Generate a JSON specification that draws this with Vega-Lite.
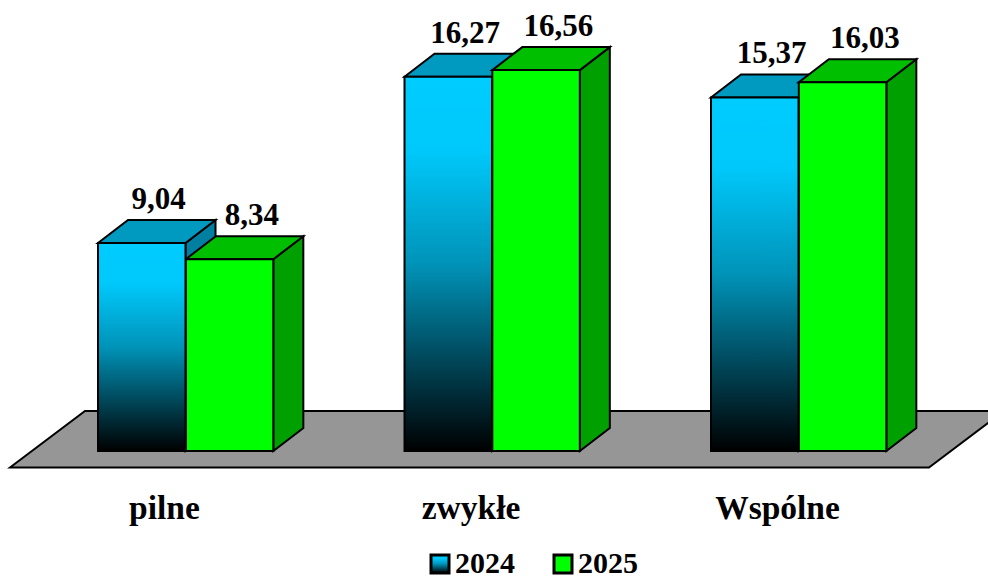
{
"$schema":"https://vega.github.io/schema/vega-lite/v6.json",
"width":988,"height":578,"padding":0,"autosize":{"type":"none"},"background":"white",
"config":{"view":{"stroke":null}},
"data":{"values":[
{"category":"pilne","series":"2024","value":9.04},
{"category":"pilne","series":"2025","value":8.34},
{"category":"zwykłe","series":"2024","value":16.27},
{"category":"zwykłe","series":"2025","value":16.56},
{"category":"Wspólne","series":"2024","value":15.37},
{"category":"Wspólne","series":"2025","value":16.03}
]},
"transform":[
{"calculate":"indexof(['pilne','zwykłe','Wspólne'],datum.category)","as":"pos"},
{"calculate":"datum.pos-0.2153+(datum.series==='2025'?0.2865:0)","as":"l"},
{"calculate":"datum.l+0.2855","as":"r"},
{"calculate":"datum.l+(datum.series==='2025'?0.2153:0.1974)","as":"labelX"},
{"calculate":"datum.value+1.478","as":"labelY"},
{"calculate":"replace(format(datum.value,'.2f'),'.',',')","as":"label"}
],
"layer":[
{"data":{"values":[{"corner":0},{"corner":1},{"corner":2},{"corner":3}]},
 "transform":[
 {"calculate":"[-0.50245,-0.25775,2.4959,2.7406][datum.corner]","as":"fx"},
 {"calculate":"datum.corner==0?-0.717:1.739","as":"fy"},
 {"calculate":"datum.corner==3?1.739:-0.717","as":"fy2"}],
 "mark":{"type":"area","fill":"#969696","stroke":"#000000","strokeWidth":2,"clip":true},
 "encoding":{
  "x":{"field":"fx","type":"quantitative","title":null,"scale":{"domain":[-0.53507,2.68842],"nice":false,"zero":false},
   "axis":{"title":null,"values":[0,1,2],"labelExpr":"['pilne','zwykłe','Wspólne'][datum.value]","grid":false,"domain":false,"ticks":false,"offset":-60,"labelPadding":0,"labelBaseline":"alphabetic","labelFont":"Liberation Serif","labelFontWeight":"bold","labelFontSize":33.5,"labelColor":"#000000","labelOverlap":false,"labelFlush":false}},
  "y":{"field":"fy","type":"quantitative","scale":{"domain":[-5.5217,19.6087],"nice":false,"zero":false},"axis":null},
  "y2":{"field":"fy2"}
 }},
{"transform":[{"filter":"datum.series==='2024'"},{"calculate":"[0,1]","as":"k"},{"flatten":["k"]},
 {"calculate":"datum.r+datum.k*0.09788","as":"px"},{"calculate":"datum.value+datum.k","as":"py"},{"calculate":"datum.k","as":"py2"}],
 "mark":{"type":"area","fill":"#007FA0","stroke":"#000000","strokeWidth":2},
 "encoding":{"detail":{"field":"category"},
  "x":{"field":"px","type":"quantitative","title":null,"scale":{"domain":[-0.53507,2.68842],"nice":false,"zero":false}},
  "y":{"field":"py","type":"quantitative","scale":{"domain":[-5.5217,19.6087],"nice":false,"zero":false},"axis":null},
  "y2":{"field":"py2"}}},
{"transform":[{"filter":"datum.series==='2024'"},{"calculate":"[0,1,2,3]","as":"k"},{"flatten":["k"]},
 {"calculate":"[datum.l,datum.l+0.09788,datum.r,datum.r+0.09788][datum.k]","as":"px"},{"calculate":"datum.value+(datum.k>0?1:0)","as":"py"},{"calculate":"datum.value+(datum.k==3?1:0)","as":"py2"}],
 "mark":{"type":"area","fill":"#0099BF","stroke":"#000000","strokeWidth":2},
 "encoding":{"detail":{"field":"category"},
  "x":{"field":"px","type":"quantitative","title":null,"scale":{"domain":[-0.53507,2.68842],"nice":false,"zero":false}},
  "y":{"field":"py","type":"quantitative","scale":{"domain":[-5.5217,19.6087],"nice":false,"zero":false},"axis":null},
  "y2":{"field":"py2"}}},
{"transform":[{"filter":"datum.series==='2025'"},{"calculate":"[0,1]","as":"k"},{"flatten":["k"]},
 {"calculate":"datum.r+datum.k*0.09788","as":"px"},{"calculate":"datum.value+datum.k","as":"py"},{"calculate":"datum.k","as":"py2"}],
 "mark":{"type":"area","fill":"#00A000","stroke":"#000000","strokeWidth":2},
 "encoding":{"detail":{"field":"category"},
  "x":{"field":"px","type":"quantitative","title":null,"scale":{"domain":[-0.53507,2.68842],"nice":false,"zero":false}},
  "y":{"field":"py","type":"quantitative","scale":{"domain":[-5.5217,19.6087],"nice":false,"zero":false},"axis":null},
  "y2":{"field":"py2"}}},
{"transform":[{"filter":"datum.series==='2025'"},{"calculate":"[0,1,2,3]","as":"k"},{"flatten":["k"]},
 {"calculate":"[datum.l,datum.l+0.09788,datum.r,datum.r+0.09788][datum.k]","as":"px"},{"calculate":"datum.value+(datum.k>0?1:0)","as":"py"},{"calculate":"datum.value+(datum.k==3?1:0)","as":"py2"}],
 "mark":{"type":"area","fill":"#00BF00","stroke":"#000000","strokeWidth":2},
 "encoding":{"detail":{"field":"category"},
  "x":{"field":"px","type":"quantitative","title":null,"scale":{"domain":[-0.53507,2.68842],"nice":false,"zero":false}},
  "y":{"field":"py","type":"quantitative","scale":{"domain":[-5.5217,19.6087],"nice":false,"zero":false},"axis":null},
  "y2":{"field":"py2"}}},
{"transform":[{"filter":"datum.series==='2025'"}],
 "mark":{"type":"rect","fill":"#00FF00","strokeWidth":2},
 "encoding":{
  "x":{"field":"l","type":"quantitative","title":null,"scale":{"domain":[-0.53507,2.68842],"nice":false,"zero":false}},
  "x2":{"field":"r"},
  "y":{"field":"value","type":"quantitative","scale":{"domain":[-5.5217,19.6087],"nice":false,"zero":false},"axis":null},
  "y2":{"datum":0},
  "stroke":{"field":"series","type":"nominal",
   "scale":{"domain":["2024","2025"],"range":["#000000","#000000"]},
   "legend":{"title":null,"orient":"none","legendX":425,"legendY":549,"direction":"horizontal","columns":2,"symbolType":"square","symbolSize":324,"labelFont":"Liberation Serif","labelFontWeight":"bold","labelFontSize":30,"labelColor":"#000000","labelOffset":0,"columnPadding":33,"padding":0,
    "encoding":{"symbols":{"fill":{"condition":{"test":"datum.value==='2025'","value":"#00FF00"},"value":{"gradient":"linear","x1":0,"y1":0,"x2":0,"y2":1,"stops":[{"offset":0,"color":"#00CCFF"},{"offset":0.2,"color":"#00C8FA"},{"offset":0.5,"color":"#0093B8"},{"offset":0.75,"color":"#00495C"},{"offset":1,"color":"#000000"}]}},"strokeWidth":{"value":3}}}}}
 }},
{"transform":[{"filter":"datum.series==='2024'"}],
 "mark":{"type":"rect","stroke":"#000000","strokeWidth":2,"fill":{"gradient":"linear","x1":0,"y1":0,"x2":0,"y2":1,"stops":[{"offset":0,"color":"#00CCFF"},{"offset":0.2,"color":"#00C8FA"},{"offset":0.5,"color":"#0093B8"},{"offset":0.75,"color":"#00495C"},{"offset":1,"color":"#000000"}]}},
 "encoding":{
  "x":{"field":"l","type":"quantitative","title":null,"scale":{"domain":[-0.53507,2.68842],"nice":false,"zero":false}},
  "x2":{"field":"r"},
  "y":{"field":"value","type":"quantitative","scale":{"domain":[-5.5217,19.6087],"nice":false,"zero":false},"axis":null},
  "y2":{"datum":0}
 }},
{"mark":{"type":"text","align":"center","baseline":"alphabetic","font":"Liberation Serif","fontWeight":"bold","fontSize":31,"color":"#000000"},
 "encoding":{
  "x":{"field":"labelX","type":"quantitative","title":null,"scale":{"domain":[-0.53507,2.68842],"nice":false,"zero":false}},
  "y":{"field":"labelY","type":"quantitative","scale":{"domain":[-5.5217,19.6087],"nice":false,"zero":false},"axis":null},
  "text":{"field":"label"}
 }}
]
}
